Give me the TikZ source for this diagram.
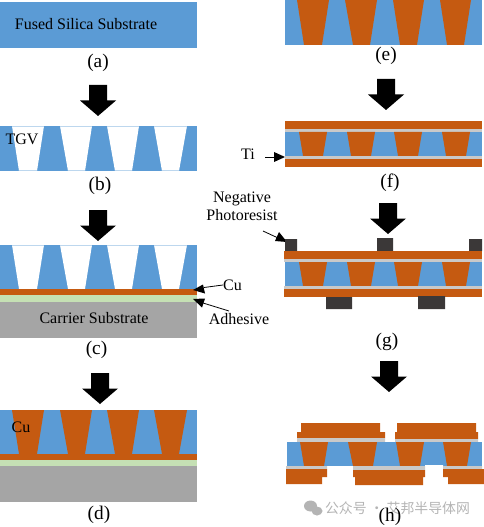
\documentclass[tikz,border=0pt]{standalone}
\usepackage{fontspec}
\setmainfont{Liberation Serif}
\newfontfamily\cjkwm{Noto Sans CJK SC}
\begin{document}
\begin{tikzpicture}[x=0.75pt,y=-0.75pt]
\definecolor{cglass}{HTML}{5B9BD5}\definecolor{cglassl}{HTML}{BDD7EE}
\definecolor{ccu}{HTML}{C55A11}\definecolor{cglue}{HTML}{C5E0B4}
\definecolor{ccarrier}{HTML}{A5A5A5}\definecolor{cti}{HTML}{C9C9C9}
\definecolor{cresist}{HTML}{3B3838}\definecolor{cmark}{HTML}{B4B4B4}
\tikzset{lbl/.style={font=\fontsize{12pt}{13.5pt}\selectfont,inner sep=0pt,align=center},
 stagecap/.style={font=\fontsize{14.5pt}{16pt}\selectfont,inner sep=0pt},
 lead/.style={draw=black,line width=0.6pt},
 leadtip/.style={fill=black},
 blockarrow/.pic={\fill[black] (-9,0) -- (9,0) -- (9,15.5) -- (18,15.5) -- (0,31) -- (-18,15.5) -- (-9,15.5) -- cycle;}}
\useasboundingbox (0,0) rectangle (484,527);
% (a)
\fill[cglass] (0,2) rectangle (197,48);
\node[lbl] (sub) at (86,24) {Fused Silica Substrate};
\node[stagecap] (capa) at (98,63) {(a)};
\pic at (98,85) {blockarrow};
% (b)
\fill[cglass] (0,126) rectangle (197,171);
\fill[white] (12,126) -- (44,126) -- (37,171) -- (19,171) -- cycle (60,126) -- (92,126) -- (85,171) -- (68,171) -- cycle (107,126) -- (139,126) -- (132,171) -- (115,171) -- cycle (154,126) -- (187,126) -- (179,171) -- (162,171) -- cycle;
\draw[cglassl,line width=0.5pt] (12,126.3) -- (44,126.3) (60,126.3) -- (92,126.3) (107,126.3) -- (139,126.3) (154,126.3) -- (187,126.3) (19,170.7) -- (37,170.7) (68,170.7) -- (85,170.7) (115,170.7) -- (132,170.7) (162,170.7) -- (179,170.7);
\node[lbl] (tgv) at (22,139) {TGV};
\node[stagecap] (capb) at (100,186) {(b)};
\pic at (98,210) {blockarrow};
% (c)
\fill[cglass] (0,245) rectangle (197,289);
\fill[white] (12,245) -- (44,245) -- (37,289) -- (19,289) -- cycle (60,245) -- (92,245) -- (85,289) -- (68,289) -- cycle (107,245) -- (139,245) -- (132,289) -- (115,289) -- cycle (154,245) -- (187,245) -- (179,289) -- (162,289) -- cycle;
\draw[cglassl,line width=0.5pt] (12,245.3) -- (44,245.3) (60,245.3) -- (92,245.3) (107,245.3) -- (139,245.3) (154,245.3) -- (187,245.3);
\fill[ccu] (0,289) rectangle (197,295);
\fill[cglue] (0,295) rectangle (197,302);
\fill[ccarrier] (0,302) rectangle (197,338);
\node[lbl] (carrier) at (94,318) {Carrier Substrate};
\node[stagecap] (capc) at (96.5,350) {(c)};
\node[lbl] (cul) at (232.5,285) {Cu};
\node[lbl] (adh) at (239,319) {Adhesive};
\coordinate (cutip) at (193,290);
\coordinate (adhtip) at (193,299);
\draw[lead] (cul.west) -- (204,287.5);
\fill[leadtip] (cutip) -- (203,284.5) -- (205,293.5) -- cycle;
\draw[lead] (229,311) -- (203,303);
\fill[leadtip] (adhtip) -- (205,298.5) -- (202,307.5) -- cycle;
\pic at (100,373) {blockarrow};
% (d)
\fill[cglass] (0,410) rectangle (197,454);
\fill[ccu] (12,410) -- (44,410) -- (37,454) -- (19,454) -- cycle (60,410) -- (92,410) -- (85,454) -- (68,454) -- cycle (107,410) -- (139,410) -- (132,454) -- (115,454) -- cycle (154,410) -- (187,410) -- (179,454) -- (162,454) -- cycle;
\fill[ccu] (0,454) rectangle (197,460);
\fill[cglue] (0,460) rectangle (197,466);
\fill[ccarrier] (0,466) rectangle (197,502);
\node[lbl] (cud) at (21,427) {Cu};
\node[stagecap] (capd) at (99,515) {(d)};
% (e)
\fill[cglass] (285,0) rectangle (482,45);
\fill[ccu] (297,0) -- (329,0) -- (322,45) -- (304,45) -- cycle (345,0) -- (377,0) -- (370,45) -- (353,45) -- cycle (393,0) -- (424,0) -- (417,45) -- (400,45) -- cycle (440,0) -- (471,0) -- (464,45) -- (447,45) -- cycle;
\node[stagecap] (cape) at (386,56) {(e)};
\pic at (386,79) {blockarrow};
% (f)
\fill[ccu] (285,121) rectangle (482,129);
\fill[cti] (285,129) rectangle (482,132);
\fill[cglass] (285,132) rectangle (482,156);
\fill[ccu] (299,132) -- (327,132) -- (323,156) -- (303,156) -- cycle (347,132) -- (375,132) -- (371,156) -- (351,156) -- cycle (394,132) -- (422,132) -- (418,156) -- (398,156) -- cycle (442,132) -- (470,132) -- (466,156) -- (446,156) -- cycle;
\fill[cti] (285,156) rectangle (482,159);
\fill[ccu] (285,159) rectangle (482,167);
\node[lbl] (ti) at (248,154) {Ti};
\coordinate (titip) at (285,157);
\draw[lead] (265,157) -- (274,157);
\fill[leadtip] (titip) -- (274,152) -- (274,162) -- cycle;
\node[stagecap] (capf) at (390,183) {(f)};
\node[lbl] (pr) at (242,206) {Negative\\Photoresist};
\coordinate (prtip) at (287,242);
\draw[lead] (263,231) -- (277,237.5);
\fill[leadtip] (prtip) -- (279,232) -- (275,241) -- cycle;
\pic at (388,203) {blockarrow};
% (g)
\fill[cresist] (285,239) rectangle (297,251) (377,238) rectangle (393,251) (469,239) rectangle (482,251);
\fill[ccu] (284,251) rectangle (482,259);
\fill[cti] (284,259) rectangle (482,262);
\fill[cglass] (285,262) rectangle (482,286);
\fill[ccu] (299,262) -- (327,262) -- (323,286) -- (303,286) -- cycle (347,262) -- (375,262) -- (371,286) -- (351,286) -- cycle (394,262) -- (422,262) -- (418,286) -- (398,286) -- cycle (442,262) -- (470,262) -- (466,286) -- (446,286) -- cycle;
\fill[cti] (284,286) rectangle (482,289);
\fill[ccu] (284,289) rectangle (482,297);
\fill[cresist] (326,297) rectangle (352,309) (418,296) rectangle (445,309);
\node[stagecap] (capg) at (387,342) {(g)};
\pic at (389,361) {blockarrow};
% (h)
\fill[ccu] (301,423) rectangle (380,432) (297,432) rectangle (385,438) (397,423) rectangle (476,432) (395,432) rectangle (478,439);
\fill[cti] (297,438) rectangle (385,442) (395,439) rectangle (478,442);
\fill[cglass] (287,442) rectangle (482,466);
\fill[ccu] (300,442) -- (328,442) -- (324,466) -- (304,466) -- cycle (348,442) -- (377,442) -- (373,466) -- (353,466) -- cycle (396,442) -- (424,442) -- (420,466) -- (400,466) -- cycle (443,442) -- (471,442) -- (467,466) -- (447,466) -- cycle;
\fill[white] (327,466) rectangle (353,470) (425,465) rectangle (443,470);
\fill[cti] (286,466) rectangle (327,469) (353,466) rectangle (425,470) (443,466) rectangle (482,469);
\fill[ccu] (286,469) rectangle (327,477) (286,477) rectangle (322,484) (353,470) rectangle (425,477) (355,477) rectangle (423,485) (443,469) rectangle (484,477) (448,477) rectangle (484,484);
% watermark
\fill[cmark] (310.5,506) ellipse (6.5 and 5.5);
\fill[cmark] (317,511) ellipse (5.5 and 4.5);
\node[inner sep=0pt,text=cmark,font=\cjkwm\fontsize{10.4pt}{12pt}\selectfont] (wm) at (397.5,508) {公众号 · 艾邦半导体网};
\node[stagecap] (caph) at (390,517) {(h)};
\end{tikzpicture}
\end{document}
